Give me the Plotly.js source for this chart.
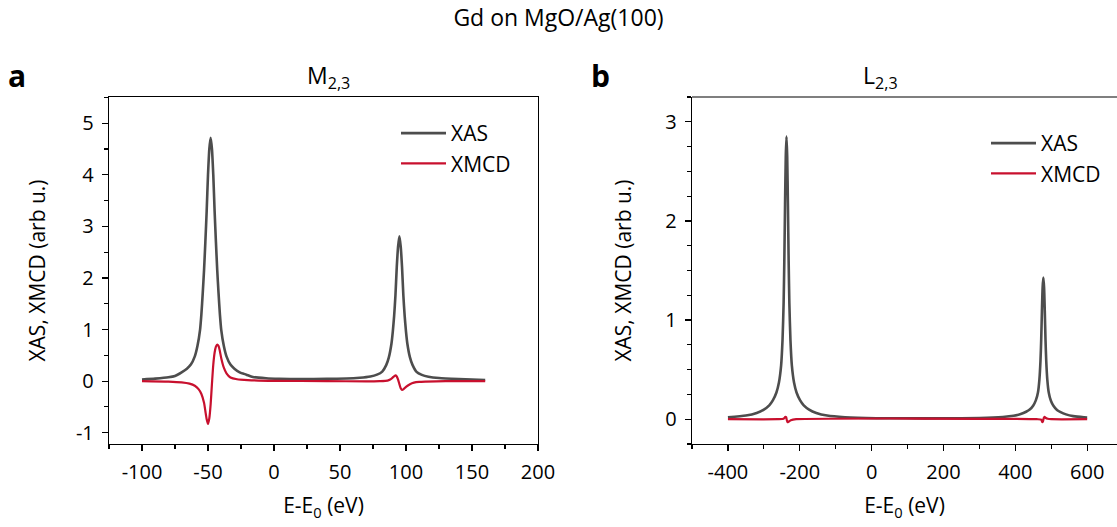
<!DOCTYPE html>
<html>
<head>
<meta charset="utf-8">
<script src="https://cdn.plot.ly/plotly-3.0.1.min.js"></script>
<style>html,body{margin:0;padding:0;background:#fff;}#chart{width:1117px;height:527px;}</style>
</head>
<body>
<div id="chart"></div>
<script>
// ---- Panel a: M2,3 edge ----
const m23XasEnergy = [-100,-90,-80,-75,-70,-66,-63,-60,-58,-56,-55,-54,-53,-52,-51,-50,-49,-48,-47,-46,-45,-44,-43,-42,-41,-40,-38,-36,-33,-30,-26,-21,-16,-6,4,20,40,55,65,73,78,82,85,87,89,90,91,92,93,94,95,96,97,98,99,100,101,103,105,108,112,117,125,140,160];
const m23Xas = [0.03,0.048,0.073,0.10,0.17,0.24,0.32,0.48,0.68,1.0,1.3,1.7,2.15,2.7,3.3,4.0,4.5,4.72,4.5,4.0,3.3,2.7,2.15,1.7,1.3,1.0,0.68,0.48,0.32,0.24,0.17,0.125,0.08,0.055,0.045,0.04,0.045,0.05,0.065,0.09,0.125,0.185,0.31,0.46,0.73,0.96,1.26,1.66,2.21,2.61,2.81,2.61,2.21,1.66,1.26,0.96,0.73,0.46,0.31,0.18,0.12,0.085,0.06,0.04,0.02];
const m23XmcdEnergy = [-100,-80,-70,-64,-60,-57,-55,-53,-52,-51,-50,-49,-48,-47,-46,-45,-44,-43,-42,-41,-40,-38,-36,-33,-28,-20,0,40,70,80,86,88,90,92,93,94,95,96,97,98,100,103,106,110,115,130,160];
const m23Xmcd = [0,-0.01,-0.025,-0.05,-0.09,-0.16,-0.25,-0.42,-0.58,-0.74,-0.83,-0.72,-0.45,-0.05,0.32,0.55,0.67,0.71,0.68,0.58,0.45,0.26,0.15,0.07,0.035,0.02,0.005,0,-0.005,0,0.01,0.03,0.07,0.11,0.09,0.03,-0.06,-0.14,-0.17,-0.16,-0.11,-0.06,-0.03,-0.015,-0.01,0,0];
const m23XTicks = [-100,-50,0,50,100,150,200];
const m23XLabels = ['-100','-50','0','50','100','150','200'];
const m23YTicks = [-1,0,1,2,3,4,5];
const m23YLabels = ['-1','0','1','2','3','4','5'];

// ---- Panel b: L2,3 edge ----
const l23XasEnergy = [-400,-350,-320,-300,-285,-275,-265,-258,-252,-248,-245,-243,-241,-239,-237,-235,-233,-231,-229,-226,-222,-216,-209,-199,-189,-174,-154,-124,-74,13,100,200,300,365,395,415,430,440,450,457,463,467,470,472,474,476,478,480,482,484,486,489,493,499,506,516,526,541,561,591,600];
const l23Xas = [0.02,0.037,0.063,0.097,0.14,0.19,0.27,0.37,0.54,0.80,1.17,1.60,2.17,2.65,2.85,2.65,2.17,1.60,1.17,0.80,0.54,0.37,0.27,0.19,0.14,0.097,0.063,0.037,0.02,0.01,0.009,0.009,0.012,0.022,0.034,0.052,0.075,0.097,0.139,0.19,0.27,0.40,0.59,0.80,1.09,1.33,1.43,1.33,1.09,0.80,0.59,0.40,0.27,0.186,0.136,0.094,0.072,0.049,0.031,0.019,0.017];
const l23XmcdEnergy = [-400,-260,-245,-240,-238,-236,-234,-231,-225,-210,460,472,475,477,479,481,484,490,500,600];
const l23Xmcd = [0,0,0.005,0.025,0.02,-0.01,-0.03,-0.025,-0.01,0,0,-0.005,-0.03,-0.02,0.01,0.025,0.015,0.005,0,0];
const l23XTicks = [-400,-200,0,200,400,600];
const l23XLabels = ['-400','-200','0','200','400','600'];
const l23YTicks = [0,1,2,3];
const l23YLabels = ['0','1','2','3'];

const seriesNames = ['XAS', 'XMCD'];
const mainTitle = 'Gd on MgO/Ag(100)';
const panelTitles = ['M<sub>2,3</sub>', 'L<sub>2,3</sub>'];
const panelLetters = ['a', 'b'];
const xTitle = 'E-E<sub>0</sub> (eV)';
const yTitle = 'XAS, XMCD (arb u.)';

const GRAY = '#4d4d4d';
const RED = '#c8102e';
const FONT = 'Open Sans, Noto Sans, sans-serif';

const traces = [
  {x: m23XasEnergy, y: m23Xas, name: seriesNames[0], type: 'scatter', mode: 'lines', line: {color: GRAY, width: 2.6, shape: 'spline', smoothing: 0.6}, xaxis: 'x', yaxis: 'y', legend: 'legend'},
  {x: m23XmcdEnergy, y: m23Xmcd, name: seriesNames[1], type: 'scatter', mode: 'lines', line: {color: RED, width: 2.2, shape: 'spline', smoothing: 0.6}, xaxis: 'x', yaxis: 'y', legend: 'legend'},
  {x: l23XasEnergy, y: l23Xas, name: seriesNames[0], type: 'scatter', mode: 'lines', line: {color: GRAY, width: 2.6, shape: 'spline', smoothing: 0.6}, xaxis: 'x2', yaxis: 'y2', legend: 'legend2'},
  {x: l23XmcdEnergy, y: l23Xmcd, name: seriesNames[1], type: 'scatter', mode: 'lines', line: {color: RED, width: 2.2, shape: 'spline', smoothing: 0.6}, xaxis: 'x2', yaxis: 'y2', legend: 'legend2'}
];

const W = 1117, H = 527;
const yDom = [1 - 444 / H, 1 - 97 / H];
const axisCommon = {
  showline: true, linecolor: '#000', linewidth: 1.2,
  ticks: 'outside', ticklen: 6, tickwidth: 1.2, tickcolor: '#000',
  showgrid: false, zeroline: false,
  tickfont: {family: FONT, size: 20, color: '#000'},
  ticklabelstandoff: 4, tickmode: 'array'
};
const minorTicks = (d) => ({dtick: d, ticks: 'outside', ticklen: 4, tickcolor: '#000', tickwidth: 1.2});

const layout = {
  width: W, height: H,
  margin: {l: 0, r: 0, t: 0, b: 0},
  paper_bgcolor: '#fff', plot_bgcolor: '#fff',
  font: {family: FONT, color: '#000'},
  title: {text: mainTitle, x: 0.5, xanchor: 'center', y: 1 - 18 / H, yanchor: 'middle', font: {family: FONT, size: 23, color: '#000'}},
  xaxis: Object.assign({}, axisCommon, {
    domain: [109 / W, 538 / W], range: [-125, 200], tickvals: m23XTicks, ticktext: m23XLabels, anchor: 'y', mirror: true,
    minor: minorTicks(25),
    title: {text: xTitle, font: {family: FONT, size: 21, color: '#000'}, standoff: 14}
  }),
  yaxis: Object.assign({}, axisCommon, {
    domain: yDom, range: [-1.22, 5.51], tickvals: m23YTicks, ticktext: m23YLabels, anchor: 'x', mirror: true,
    minor: minorTicks(0.5),
    title: {text: yTitle, font: {family: FONT, size: 21, color: '#000'}, standoff: 24}
  }),
  xaxis2: Object.assign({}, axisCommon, {
    domain: [692 / W, 1], range: [-500, 683], tickvals: l23XTicks, ticktext: l23XLabels, anchor: 'y2',
    minor: minorTicks(100),
    title: {text: xTitle, font: {family: FONT, size: 21, color: '#000'}, standoff: 14}
  }),
  yaxis2: Object.assign({}, axisCommon, {
    domain: yDom, range: [-0.25, 3.25], tickvals: l23YTicks, ticktext: l23YLabels, anchor: 'x2',
    minor: minorTicks(0.25),
    title: {text: yTitle, font: {family: FONT, size: 21, color: '#000'}, standoff: 28}
  }),
  legend: {x: 396 / W, xanchor: 'left', y: 1 - 113 / H, yanchor: 'top', bgcolor: 'rgba(0,0,0,0)', borderwidth: 0,
    font: {family: FONT, size: 21, color: '#000'}, itemwidth: 45, tracegroupgap: 0},
  legend2: {x: 986 / W, xanchor: 'left', y: 1 - 123 / H, yanchor: 'top', bgcolor: 'rgba(0,0,0,0)', borderwidth: 0,
    font: {family: FONT, size: 21, color: '#000'}, itemwidth: 45, tracegroupgap: 0},
  shapes: [
    {type: 'line', xref: 'x2 domain', yref: 'y2 domain', x0: 0, x1: 1, y0: 1, y1: 1, line: {color: '#000', width: 1.2}, layer: 'above'}
  ],
  annotations: [
    {text: panelTitles[0], xref: 'paper', yref: 'paper', x: 328 / W, y: 1 - 76 / H, xanchor: 'center', yanchor: 'middle', showarrow: false, font: {family: FONT, size: 23, color: '#000'}},
    {text: panelTitles[1], xref: 'paper', yref: 'paper', x: 880 / W, y: 1 - 76 / H, xanchor: 'center', yanchor: 'middle', showarrow: false, font: {family: FONT, size: 23, color: '#000'}},
    {text: '<b>' + panelLetters[0] + '</b>', xref: 'paper', yref: 'paper', x: 17 / W, y: 1 - 75 / H, xanchor: 'center', yanchor: 'middle', showarrow: false, font: {family: FONT, size: 30, color: '#000'}},
    {text: '<b>' + panelLetters[1] + '</b>', xref: 'paper', yref: 'paper', x: 600 / W, y: 1 - 75 / H, xanchor: 'center', yanchor: 'middle', showarrow: false, font: {family: FONT, size: 30, color: '#000'}}
  ]
};

Plotly.newPlot('chart', traces, layout, {displayModeBar: false, staticPlot: true});
</script>
</body>
</html>
